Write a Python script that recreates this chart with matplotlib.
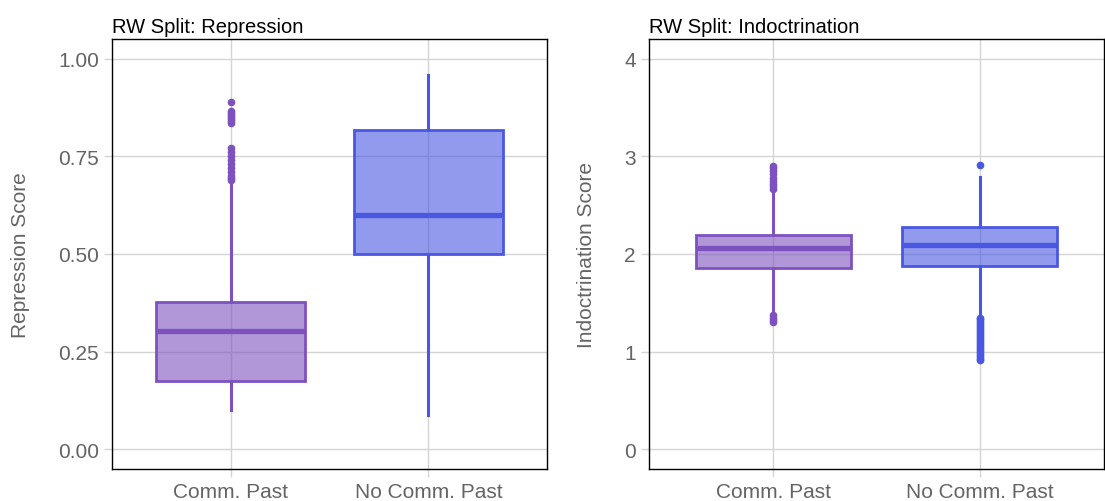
import numpy as np
import matplotlib.pyplot as plt

plt.rcParams['font.family'] = ['Liberation Sans', 'DejaVu Sans']

groups = ['Comm. Past', 'No Comm. Past']
line_cols = ['#7E52BE', '#4A57E2']

# repression: (whislo, q1, med, q3, whishi)
rep_stats = [(0.10, 0.174, 0.302, 0.378, 0.685),
             (0.087, 0.499, 0.601, 0.818, 0.957)]
rep_fliers = [[0.89, 0.865, 0.86, 0.855, 0.85, 0.845, 0.84, 0.835,
               0.77, 0.76, 0.75, 0.74, 0.73, 0.72, 0.71, 0.70, 0.695, 0.69],
              []]

ind_stats = [(1.39, 1.857, 2.06, 2.19, 2.64),
             (1.36, 1.88, 2.09, 2.28, 2.79)]
ind_fliers = [[2.90, 2.88, 2.85, 2.82, 2.78, 2.75, 2.72, 2.70, 2.67,
               1.38, 1.35, 1.32, 1.30],
              [2.91, 1.35, 1.33, 1.31, 1.29, 1.27, 1.25, 1.23, 1.21, 1.19, 1.17,
               1.15, 1.13, 1.11, 1.09, 1.07, 1.05, 1.03, 1.01, 0.99, 0.97,
               0.95, 0.93, 0.92]]

panels = [
    ('RW Split: Repression', 'Repression Score', rep_stats, rep_fliers,
     [0, 0.25, 0.5, 0.75, 1.0], ['0.00', '0.25', '0.50', '0.75', '1.00'], (-0.05, 1.05)),
    ('RW Split: Indoctrination', 'Indoctrination Score', ind_stats, ind_fliers,
     [0, 1, 2, 3, 4], ['0', '1', '2', '3', '4'], (-0.2, 4.2)),
]

fig = plt.figure(figsize=(11.05, 5.02), dpi=100)
rects = [[112/1105, 32/502, 435/1105, 430/502],
         [649/1105, 32/502, 455/1105, 430/502]]

grid_col = '#d4d4d4'
txt_col = '#646464'

for rect, (title, ylab, stats, fliers, yt, ytl, ylim) in zip(rects, panels):
    ax = fig.add_axes(rect)
    ax.set_axisbelow(True)
    ax.grid(True, color=grid_col, linewidth=1.0)
    for i, (st, fl) in enumerate(zip(stats, fliers)):
        d = dict(whislo=st[0], q1=st[1], med=st[2], q3=st[3], whishi=st[4],
                 fliers=fl)
        b = ax.bxp([d], positions=[i + 1], widths=0.75, patch_artist=True,
                   showcaps=False, manage_ticks=False,
                   boxprops=dict(edgecolor=line_cols[i], linewidth=2.0),
                   medianprops=dict(color=line_cols[i], linewidth=3.8,
                                    solid_capstyle='butt'),
                   whiskerprops=dict(color=line_cols[i], linewidth=2.2),
                   flierprops=dict(marker='o', markerfacecolor=line_cols[i],
                                   markeredgecolor=line_cols[i], markersize=4.5))
        for p in b['boxes']:
            p.set_facecolor(line_cols[i] + '99')
    ax.set_xlim(0.4, 2.6)
    ax.set_ylim(*ylim)
    ax.set_xticks([1, 2])
    ax.set_xticklabels(groups)
    ax.set_yticks(yt)
    ax.set_yticklabels(ytl)
    ax.tick_params(colors=grid_col, labelcolor=txt_col, labelsize=15,
                   length=6, width=1.0)
    ax.set_ylabel(ylab, color=txt_col, fontsize=15, labelpad=20)
    ax.set_title(title, loc='left', fontsize=14.5, color='black', pad=5)
    for s in ax.spines.values():
        s.set_color('black')
        s.set_linewidth(1.0)

fig.savefig('out.png', dpi=100)
